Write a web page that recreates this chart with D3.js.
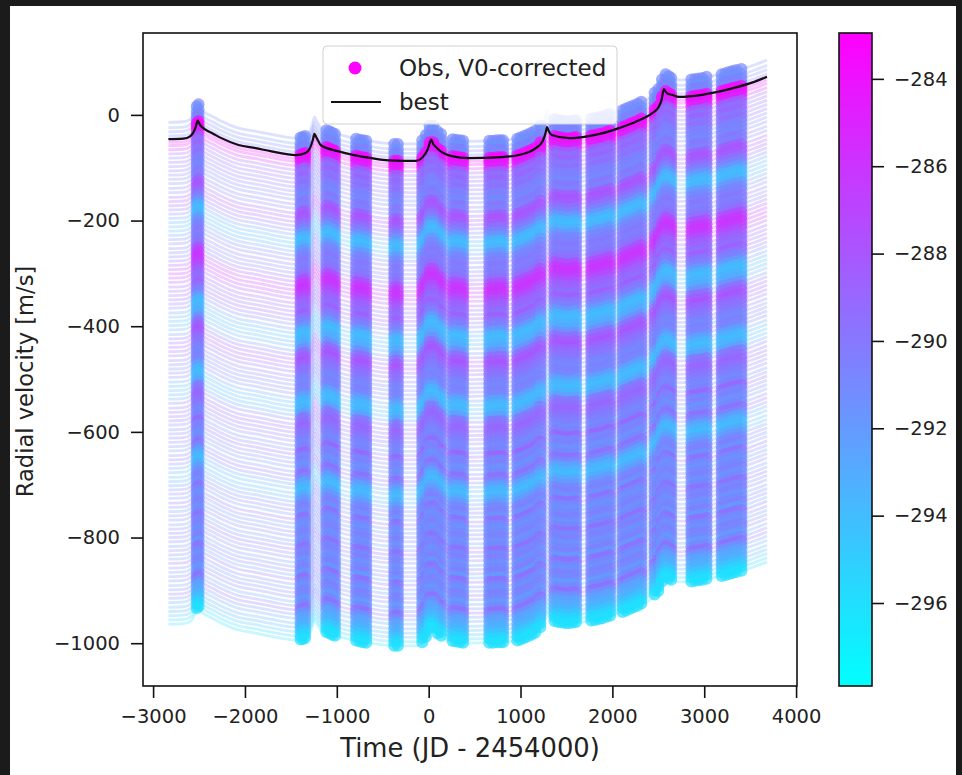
<!DOCTYPE html>
<html>
<head>
<meta charset="utf-8">
<script src="https://cdn.jsdelivr.net/npm/d3@7"></script>
<style>
  html, body { margin: 0; padding: 0; background: #1b1b1b; }
  svg { display: block; }
  text { font-family: "DejaVu Sans", sans-serif; fill: #222; }
</style>
</head>
<body>
<svg width="962" height="775"></svg>
<script>
// best-fit model curve
const bestTime = [-2833, -2670, -2594, -2560, -2535, -2514, -2495, -2474, -2430, -2343, -2256, -2071, -1885, -1711,
  -1449, -1340, -1290, -1262, -1243, -1225, -1200, -1177, -981, -621, -436, -142, -60, -10, 29, 50, 80, 109, 251, 436,
  796, 981, 1166, 1240, 1270, 1289, 1305, 1340, 1526, 1711, 1885, 2071, 2256, 2430, 2500, 2535, 2561, 2580, 2605,
  2648, 2724, 2975, 3160, 3346, 3520, 3683];
const bestRV = [-46, -45, -40, -33, -22, -11, -17, -22, -28, -36, -44, -57, -63, -69,
  -76, -72, -62, -48, -36, -42, -50, -57, -69, -82, -86, -87, -79, -65, -47, -55, -61, -66, -78, -82,
  -80, -76, -63, -50, -36, -23, -30, -38, -44, -41, -35, -25, -13, 3, 14, 28, 49, 44, 40,
  38, 34, 38, 44, 52, 61, 72];

// observation epochs and their V0-corrected velocities
const obsTime = [-2525, -2505,
  -1395, -1370, -1345,
  -1115, -1080, -1050, -1020,
  -790, -750, -715, -680,
  -375, -335,
  -70, -30, 10, 50, 95, 135,
  260, 300, 340, 375,
  660, 700, 740, 780, 810,
  965, 1000, 1040, 1080, 1120, 1160, 1215,
  1370, 1410, 1450, 1490, 1530, 1570, 1605,
  1770, 1810, 1850, 1890, 1935, 1975,
  2110, 2150, 2190, 2230, 2275, 2315,
  2460, 2500, 2540, 2580, 2615, 2640,
  2860, 2900, 2940, 2980, 3025,
  3190, 3230, 3270, 3310, 3350, 3405];
const obsRV = [-16, -12,
  -75, -74, -72,
  -61, -63, -66, -68,
  -77, -79, -80, -81,
  -87, -87,
  -80, -70, -52, -52, -63, -68,
  -78, -79, -80, -81,
  -81, -81, -80, -80, -80,
  -77, -75, -72, -69, -66, -62, -52,
  -40, -42, -43, -44, -44, -43, -42,
  -39, -38, -36, -35, -32, -30,
  -23, -20, -17, -14, -11, -7,
  10, 17, 35, 45, 41, 38,
  35, 36, 37, 38, 40,
  45, 47, 49, 51, 53, 55];

// posterior samples: velocity offset relative to best fit, and V0 (colour)
const sampleOffset = [32, 22, 14, 6, 0, -6, -12, -20, -28, -36, -44, -52, -60, -68, -76, -84, -93, -101, -110,
  -118, -126, -134, -142, -150, -158, -166, -174, -182, -190, -198, -207, -215, -223, -231, -239, -247, -255,
  -263, -271, -280, -288, -296, -304, -312, -320, -329, -337, -345, -353, -361, -370, -378, -386, -394, -402,
  -410, -419, -427, -435, -443, -451, -460, -468, -476, -484, -492, -500, -509, -517, -525, -533, -541, -550,
  -558, -566, -574, -582, -590, -599, -607, -615, -623, -631, -640, -648, -656, -664, -672, -680, -689, -697,
  -705, -713, -721, -730, -738, -746, -754, -762, -771, -779, -787, -795, -803, -812, -820, -828, -836, -845,
  -853, -861, -869, -877, -886, -894, -902, -910, -918];
const sampleV0 = [-291, -291.5, -290.5, -291,
  -283.3, -283.6, -284.2, -285,
  -288.5, -289.5, -289, -290, -289.5, -290.5,
  -290.5, -291, -290, -290.5,
  -288.5, -288, -288.5, -289.5, -290.5,
  -292, -293.5, -294, -293.5, -292,
  -291, -290.5, -290, -290.5, -290, -289.5,
  -287.5, -286.5, -286, -286.5, -287.5,
  -288.5, -289, -289.5, -288.5, -290, -290.5,
  -292, -293.5, -294, -293.5, -293, -291.5,
  -289.5, -288.5, -288, -289, -289.5,
  -290, -290.5, -291, -290.5, -291,
  -292.5, -293.5, -294, -293.5, -292.5,
  -290, -289.5, -289, -289.5, -290, -290.5,
  -291, -290.5, -289, -291, -290.5, -291.5, -291, -289.5, -291,
  -292.5, -293.5, -294, -293, -292,
  -291, -290.5, -291.5, -289.5, -291, -291.5, -291, -290.5, -291.5, -291, -289.5, -291, -290.5,
  -291.5, -291, -290.5, -292, -289.5, -291, -291.5, -290.5, -291, -292, -291, -289.5, -291.5,
  -292.5, -293, -293.5, -294.5, -295.5, -296];

const xTicks = [-3000, -2000, -1000, 0, 1000, 2000, 3000, 4000];
const yTicks = [0, -200, -400, -600, -800, -1000];
const cbTicks = [-284, -286, -288, -290, -292, -294, -296];

const svg = d3.select("svg");

// photo frame + white page
svg.append("rect").attr("x", 10).attr("y", 6).attr("width", 946).attr("height", 769).attr("fill", "#fff");

const margin = { top: 33, left: 143, right: 165, bottom: 89 };
const width = 962 - margin.left - margin.right;
const height = 775 - margin.top - margin.bottom;

const xScale = d3.scaleLinear().domain([-3110, 4010]).range([0, width]);
const yScale = d3.scaleLinear().domain([-1081, 155]).range([height, 0]);
const vMin = -297.9, vMax = -282.95;
const colour = d3.scaleLinear().domain([vMin, vMax]).range(["#00ffff", "#ff00ff"]);
const fmt = d3.format("d");

const g = svg.append("g").attr("transform", `translate(${margin.left},${margin.top})`);

const line = offset => d3.line()
  .x(d => xScale(d))
  .y((d, i) => yScale(bestRV[i] + offset))
  .curve(d3.curveMonotoneX);

// faint posterior curves
g.append("g").selectAll("path")
  .data(sampleOffset)
  .join("path")
  .attr("d", (d) => line(d)(bestTime))
  .attr("fill", "none")
  .attr("stroke", (d, i) => colour(sampleV0[i]))
  .attr("stroke-width", 2.8)
  .attr("stroke-opacity", 0.25);

// observations shifted by each sample
const dots = g.append("g");
sampleOffset.forEach((off, k) => {
  dots.append("g")
    .attr("fill", colour(sampleV0[k]))
    .attr("fill-opacity", 0.7)
    .selectAll("circle")
    .data(obsTime)
    .join("circle")
    .attr("cx", d => xScale(d))
    .attr("cy", (d, i) => yScale(obsRV[i] + off))
    .attr("r", 6);
});

// best fit
g.append("path")
  .attr("d", line(0)(bestTime))
  .attr("fill", "none")
  .attr("stroke", "#111")
  .attr("stroke-width", 2.2);

// axes
const xAxis = g.append("g").attr("transform", `translate(0,${height})`)
  .call(d3.axisBottom(xScale).tickValues(xTicks).tickFormat(fmt).tickSize(12).tickPadding(11));
const yAxis = g.append("g")
  .call(d3.axisLeft(yScale).tickValues(yTicks).tickFormat(fmt).tickSize(12).tickPadding(11));
[xAxis, yAxis].forEach(a => {
  a.select(".domain").remove();
  a.selectAll("line").attr("stroke", "#111").attr("stroke-width", 1.6);
  a.selectAll("text").attr("font-size", 19.5).attr("fill", "#222").attr("font-family", "DejaVu Sans");
});
g.append("rect").attr("width", width).attr("height", height)
  .attr("fill", "none").attr("stroke", "#111").attr("stroke-width", 1.6);

svg.append("text")
  .attr("x", margin.left + width / 2).attr("y", 757)
  .attr("text-anchor", "middle").attr("font-size", 25.8)
  .text("Time (JD - 2454000)");
svg.append("text")
  .attr("transform", `translate(33,${margin.top + height / 2 + 22}) rotate(-90)`)
  .attr("text-anchor", "middle").attr("font-size", 22.6)
  .text("Radial velocity [m/s]");

// legend
const legend = g.append("g").attr("transform", `translate(${323 - margin.left},${46 - margin.top})`);
legend.append("rect").attr("width", 294).attr("height", 78).attr("rx", 4)
  .attr("fill", "#fff").attr("fill-opacity", 0.85).attr("stroke", "#d0d0d0");
legend.append("circle").attr("cx", 32).attr("cy", 22).attr("r", 6.5).attr("fill", "#ff00ff");
legend.append("text").attr("x", 76).attr("y", 22).attr("dy", "0.35em").attr("font-size", 23)
  .text("Obs, V0-corrected");
legend.append("line").attr("x1", 8).attr("x2", 58).attr("y1", 56).attr("y2", 56)
  .attr("stroke", "#111").attr("stroke-width", 2.2);
legend.append("text").attr("x", 76).attr("y", 56).attr("dy", "0.35em").attr("font-size", 23)
  .text("best");

// colour bar
const cbX = 839, cbW = 33;
const cbScale = d3.scaleLinear().domain([vMin, vMax]).range([margin.top + height, margin.top]);
const grad = svg.append("defs").append("linearGradient").attr("id", "cool")
  .attr("x1", 0).attr("x2", 0).attr("y1", 1).attr("y2", 0);
grad.append("stop").attr("offset", 0).attr("stop-color", colour(vMin));
grad.append("stop").attr("offset", 1).attr("stop-color", colour(vMax));
svg.append("rect").attr("x", cbX).attr("y", margin.top).attr("width", cbW).attr("height", height)
  .attr("fill", "url(#cool)").attr("stroke", "#111").attr("stroke-width", 1.6);
const cbAxis = svg.append("g").attr("transform", `translate(${cbX + cbW},0)`)
  .call(d3.axisRight(cbScale).tickValues(cbTicks).tickFormat(fmt).tickSize(12).tickPadding(10));
cbAxis.select(".domain").remove();
cbAxis.selectAll("line").attr("stroke", "#111").attr("stroke-width", 1.6);
cbAxis.selectAll("text").attr("font-size", 19.5).attr("fill", "#222").attr("font-family", "DejaVu Sans");
</script>
</body>
</html>
